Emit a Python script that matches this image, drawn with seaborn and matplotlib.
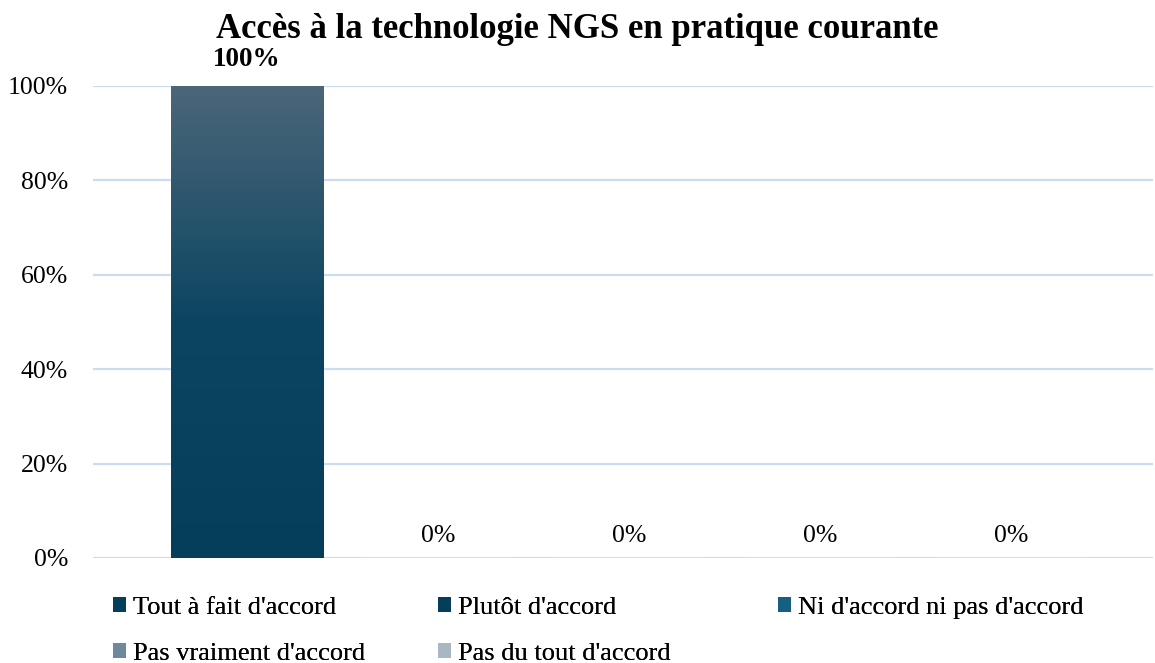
import numpy as np
import pandas as pd
import matplotlib
matplotlib.use("Agg")
import matplotlib.pyplot as plt
from matplotlib.colors import LinearSegmentedColormap
from matplotlib.patches import Patch
import seaborn as sns

categories = ["Tout à fait d'accord", "Plutôt d'accord", "Ni d'accord ni pas d'accord",
              "Pas vraiment d'accord", "Pas du tout d'accord"]
values = [100, 0, 0, 0, 0]
top_colors = ["#4b6679", "#4b6679", "#3d6f8c", "#97a9b8", "#cfd6dd"]
mid_colors = ["#0b4562", "#0b4562", "#1a6486", "#7890a3", "#b5c0cb"]
bottom_colors = ["#053e5a", "#053e5a", "#155f82", "#6e889c", "#aab6c2"]
title = "Accès à la technologie NGS en pratique courante"

sns.set_theme(style="white")
plt.rcParams["font.family"] = ["Liberation Serif", "DejaVu Serif"]
plt.rcParams["text.color"] = "black"
plt.rcParams["ytick.color"] = "black"

df = pd.DataFrame({"cat": categories, "val": values})

fig = plt.figure(figsize=(11.55, 6.63), dpi=100)
ax = fig.add_axes([93 / 1155, 1 - 558 / 663, (1153 - 93) / 1155, (558 - 86) / 663])

sns.barplot(data=df, x="cat", y="val", hue="cat", palette=bottom_colors,
            width=0.8, legend=False, ax=ax, saturation=1)

# vertical gradient fill for each bar
for patch, tc, mc, bc in zip(ax.patches, top_colors, mid_colors, bottom_colors):
    h = patch.get_height()
    if h <= 0:
        continue
    x0 = patch.get_x()
    w = patch.get_width()
    cmap = LinearSegmentedColormap.from_list("g", [(0, bc), (0.5, mc), (1, tc)])
    grad = np.linspace(0, 1, 256).reshape(-1, 1)
    im = ax.imshow(grad, cmap=cmap, aspect="auto", origin="lower",
                   extent=[x0, x0 + w, 0, h], zorder=patch.get_zorder() + 0.1)
    im.set_clip_path(patch)
ax.set_xlim(-0.806, 4.743)
ax.set_ylim(0, 100)

# value labels
for i, v in enumerate(values):
    if v > 0:
        ax.text(i, v + 3.0, f"{v}%", ha="center", va="bottom", fontsize=19.5,
                fontweight="bold", color="black")
    else:
        ax.text(i, v + 2.3, f"{v}%", ha="center", va="bottom", fontsize=18.5,
                color="black")

ax.set_yticks(np.arange(0, 101, 20))
ax.set_yticklabels([f"{t}%" for t in range(0, 101, 20)], fontsize=18.5)
ax.set_xticks([])
ax.set_xlabel("")
ax.set_ylabel("")
ax.yaxis.grid(True, color="#c9dcf1", linewidth=1.6)
ax.set_axisbelow(True)
for s in ax.spines.values():
    s.set_visible(False)
ax.tick_params(axis="y", length=0, pad=18)

fig.text(0.5, 1 - 30 / 663, title, ha="center", va="center", fontsize=25, fontweight="bold")

# legend laid out as three columns
handles = [Patch(facecolor=bottom_colors[i], edgecolor="none", label=categories[i]) for i in range(5)]
columns = [([0, 3], 113), ([1, 4], 438), ([2], 778)]
for idx, xpix in columns:
    leg = fig.legend([handles[i] for i in idx], [categories[i] for i in idx], ncol=1,
                     loc="upper left", bbox_to_anchor=(xpix / 1155, 1 - 597 / 663),
                     frameon=False, fontsize=19, handlelength=0.5, handleheight=0.5,
                     handletextpad=0.25, labelspacing=0.9, borderpad=0.0,
                     borderaxespad=0.0)
    fig.add_artist(leg)

fig.savefig("out.png", dpi=100)
